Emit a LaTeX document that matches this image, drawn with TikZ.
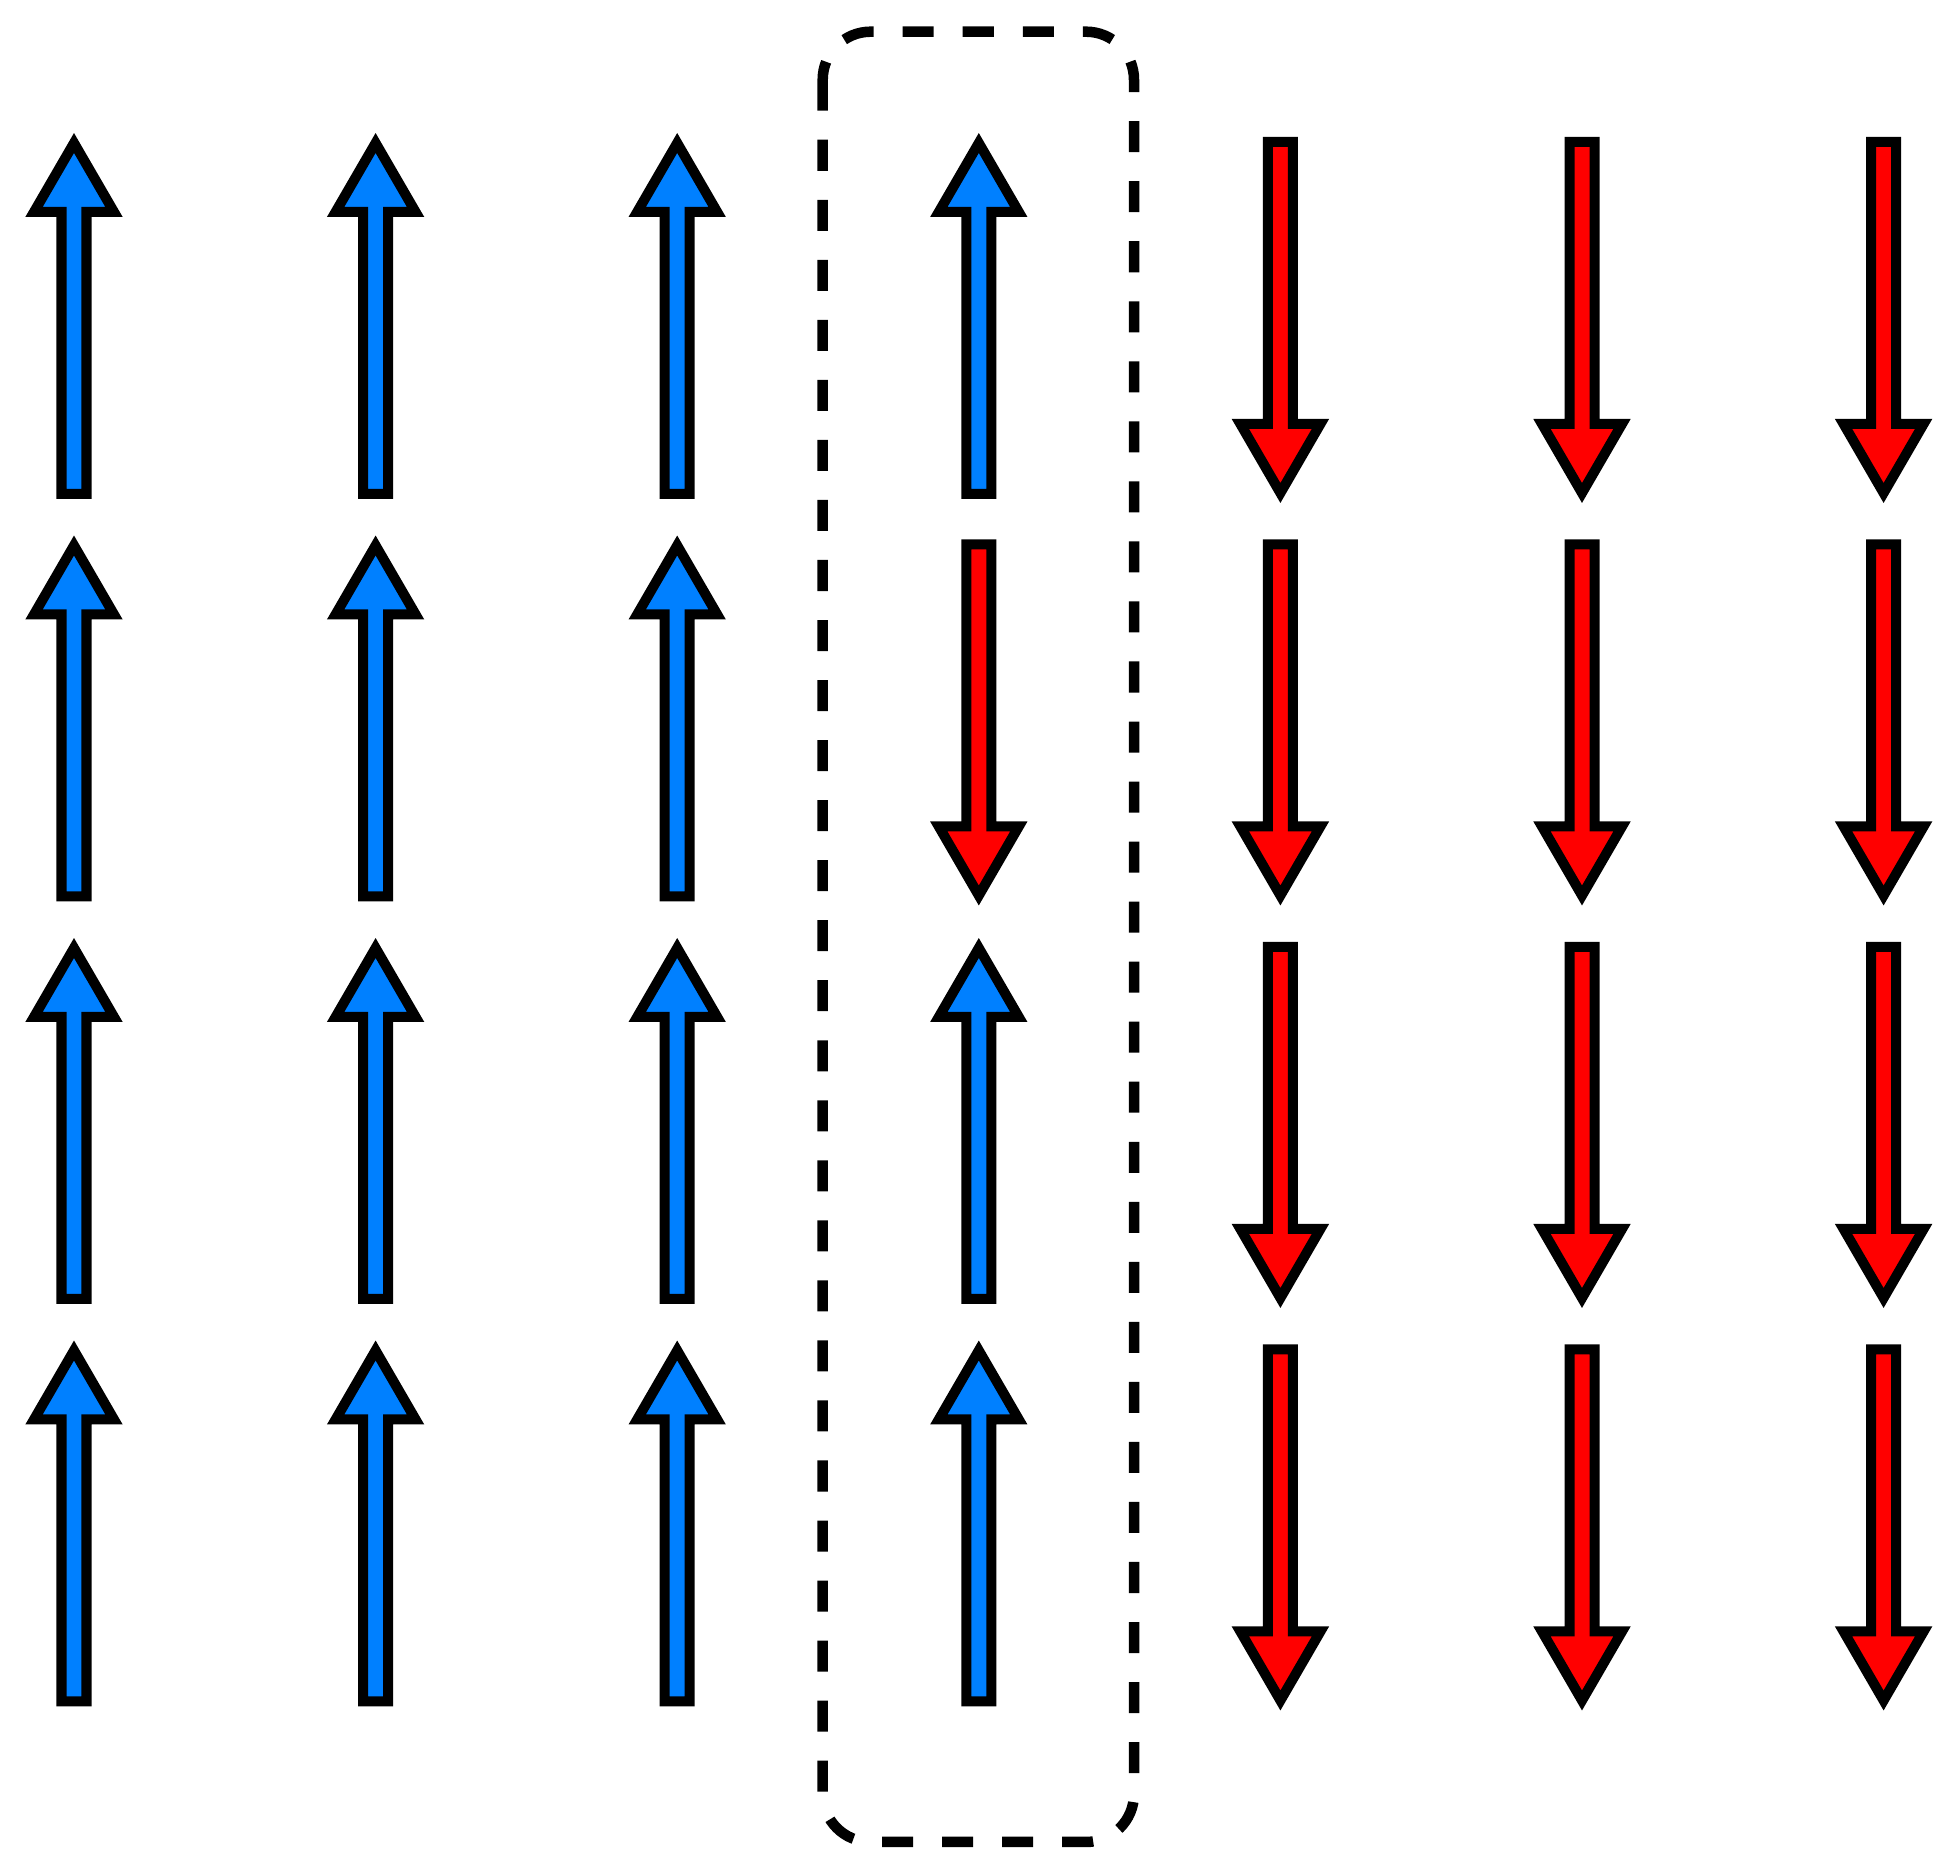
\documentclass[tikz,border=0pt]{standalone}
\usepackage{tikz}
\usepackage{xcolor}

\definecolor{spinblue}{RGB}{0,128,255}
\definecolor{spinred}{RGB}{255,0,0}

% arrow outlines, #1 = centre x, #2 = outer end (top for up, tip for down)
\newcommand{\spinup}[2]{%
    \draw[upspin] (#1,#2+10) -- (#1+40,#2+79) -- (#1+12.5,#2+79) -- (#1+12.5,#2+361)
        -- (#1-12.5,#2+361) -- (#1-12.5,#2+79) -- (#1-40,#2+79) -- cycle;}
\newcommand{\spindown}[2]{%
    \draw[downspin] (#1,#2-10) -- (#1+40,#2-79) -- (#1+12.5,#2-79) -- (#1+12.5,#2-361)
        -- (#1-12.5,#2-361) -- (#1-12.5,#2-79) -- (#1-40,#2-79) -- cycle;}

\begin{document}
\begin{tikzpicture}[x=0.01cm, y=-0.01cm,
    upspin/.style={fill=spinblue, draw=black, line width=1mm},
    downspin/.style={fill=spinred, draw=black, line width=1mm},
    chainbox/.style={draw=black, line width=1.05mm, rounded corners=0.48cm,
        dash pattern=on 0.31cm off 0.29cm}]
    \useasboundingbox (0,0) rectangle (1950,1874);

    % Up spins
    \foreach \x in {74,375.6,677.2} {
        \foreach \y in {133,535.5,938,1340.5} {
            \spinup{\x}{\y}
        }
    }

    % Middle column
    \spinup{978.8}{133}
    \spindown{978.8}{905.5}
    \spinup{978.8}{938}
    \spinup{978.8}{1340.5}
    \draw[chainbox] (822.7,31.7) rectangle (1134,1842);

    % Down spins
    \foreach \x in {1280.4,1582,1883.6} {
        \foreach \y in {503,905.5,1308,1710.5} {
            \spindown{\x}{\y}
        }
    }
\end{tikzpicture}
\end{document}
